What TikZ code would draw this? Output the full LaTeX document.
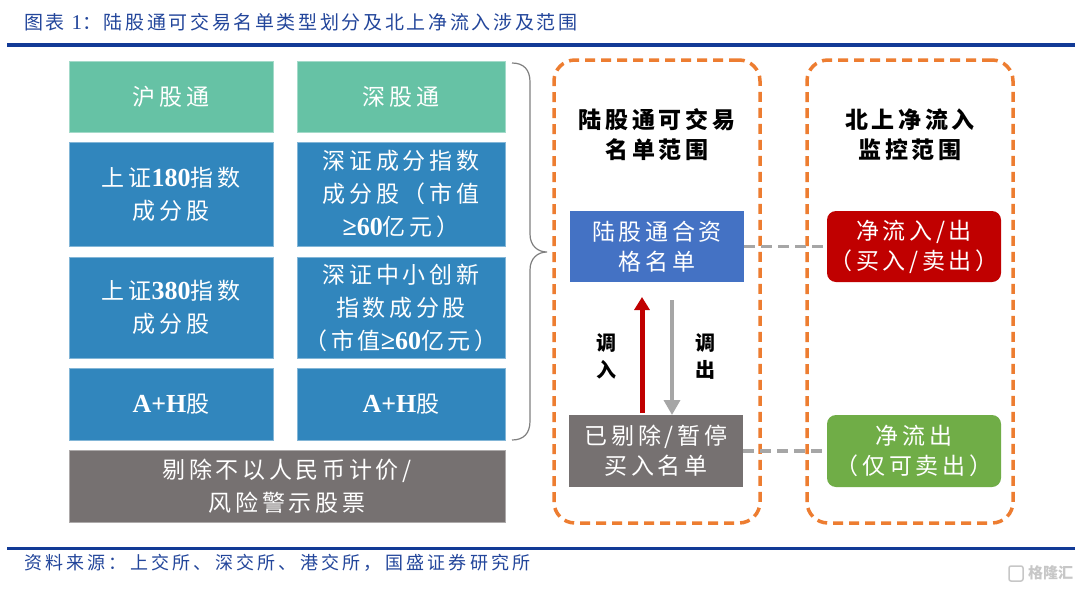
\documentclass[tikz,border=0pt]{standalone}
\usepackage{fontspec}
\setmainfont{Noto Sans CJK SC}
\newfontfamily\boxf{Noto Sans CJK SC}[LetterSpace=16]
\newfontfamily\titf{Noto Sans CJK SC}[LetterSpace=14]
\newfontfamily\srcf{Noto Sans CJK SC}[LetterSpace=18]
\newfontfamily\numf{Liberation Serif}
\newfontfamily\wmf{Noto Sans CJK SC}
\usetikzlibrary{arrows.meta}
\definecolor{tealc}{RGB}{102,194,165}
\definecolor{bluec}{RGB}{49,134,189}
\definecolor{grayc}{RGB}{118,113,113}
\definecolor{orangec}{RGB}{237,125,49}
\definecolor{midblue}{RGB}{68,114,196}
\definecolor{redc}{RGB}{192,0,0}
\definecolor{greenc}{RGB}{112,173,71}
\definecolor{dashgray}{RGB}{166,166,166}
\definecolor{bracec}{RGB}{128,128,128}
\definecolor{titleblue}{RGB}{35,70,155}
\definecolor{rulec}{RGB}{18,58,150}
\newcommand\nb[1]{{\numf\bfseries\fontsize{26}{33}\selectfont #1}}
\begin{document}
\begin{tikzpicture}[x=1pt,y=-1pt,
  every node/.style={inner sep=0pt, outer sep=0pt, align=center},
  boxtext/.style={text=white, font=\boxf\fontsize{23}{33}\selectfont},
  tealbox/.style={boxtext, fill=tealc, draw=tealc!60!white, line width=0.8pt, minimum height=71pt},
  bluebox/.style={boxtext, fill=bluec, draw=bluec!60!white, line width=0.8pt},
  greybox/.style={boxtext, fill=grayc, draw=grayc!60!white, line width=0.8pt},
  frame/.style={draw=orangec, line width=3.5pt, dash pattern=on 10pt off 6pt, rounded corners=21pt, minimum width=206pt, minimum height=463pt},
  headtext/.style={font=\boxf\bfseries\fontsize{23}{30}\selectfont, text=black},
  midbox/.style={text=white, font=\boxf\fontsize{23}{30}\selectfont, minimum width=174pt, minimum height=71pt},
  conn/.style={draw=dashgray, line width=3.5pt, dash pattern=on 11pt off 6pt},
  uparrow/.style={draw=redc, line width=5pt, -{Triangle[width=15pt,length=13pt]}},
  downarrow/.style={draw=dashgray, line width=3.5pt, -{Triangle[width=16pt,length=15pt]}},
  arrowlabel/.style={font=\bfseries\fontsize{20}{27}\selectfont, text=black}
]
\useasboundingbox (0,0) rectangle (1080,592);
\fill[white] (0,0) rectangle (1080,592);

% title and rules
\node[anchor=west, text=titleblue, font=\titf\fontsize{19}{22}\selectfont] (title) at (24,22)
  {图表 {\numf\fontsize{21}{22}\selectfont 1}：陆股通可交易名单类型划分及北上净流入涉及范围};
\draw[rulec, line width=3.5pt] (7,45) -- (1075,45);
\draw[rulec, line width=3pt] (7,548) -- (1075,548);
\node[anchor=west, text=titleblue, font=\srcf\fontsize{18}{22}\selectfont] (source) at (24,563)
  {资料来源：上交所、深交所、港交所，国盛证券研究所};
\node[anchor=east, text=black!22, font=\wmf\bfseries\fontsize{15}{18}\selectfont] (wm) at (1073,573) {格隆汇};
\draw[black!22, line width=1.5pt, rounded corners=2pt] (1009,566) rectangle (1023,581);

% left grid
\node[tealbox, minimum width=204pt] (hgt) at (171,96.5) {沪股通};
\node[tealbox, minimum width=208pt] (sgt) at (401,96.5) {深股通};
\node[bluebox, minimum width=204pt, minimum height=104pt] (sh180) at (171,194) {上证\nb{180}指数\\成分股};
\node[bluebox, minimum width=208pt, minimum height=104pt] (szcf) at (401,194) {深证成分指数\\成分股（市值\\\nb{≥60}亿元）};
\node[bluebox, minimum width=204pt, minimum height=101pt] (sh380) at (171,307.5) {上证\nb{380}指数\\成分股};
\node[bluebox, minimum width=208pt, minimum height=101pt] (szzx) at (401,307.5) {深证中小创新\\指数成分股\\（市值\nb{≥60}亿元）};
\node[bluebox, minimum width=204pt, minimum height=72pt] (ah1) at (171,404) {\nb{A+H}股};
\node[bluebox, minimum width=208pt, minimum height=72pt] (ah2) at (401,404) {\nb{A+H}股};
\node[greybox, minimum width=436pt, minimum height=72pt] (excl) at (287,486) {剔除不以人民币计价/\\风险警示股票};

% brace
\draw[bracec, line width=1.2pt] (512,63) .. controls (524,63) and (530,70) .. (530,82) -- (530,234)
  .. controls (530,246) and (538,252) .. (547,252)
  .. controls (538,252) and (530,258) .. (530,270) -- (530,421)
  .. controls (530,433) and (524,440) .. (512,440);

% frames
\node[frame] (fmid) at (657,291.5) {};
\node[frame] (fright) at (910,291.5) {};
\node[headtext] (hmid) at (657,135) {陆股通可交易\\名单范围};
\node[headtext] (hright) at (910,135) {北上净流入\\监控范围};

% middle boxes
\node[midbox, fill=midblue] (elig) at (657,246.5) {陆股通合资\\格名单};
\node[midbox, fill=grayc, minimum height=72pt] (susp) at (656,451) {已剔除/暂停\\买入名单};
\node[midbox, fill=redc, rounded corners=9pt] (flow) at (914,246.5) {净流入/出\\（买入/卖出）};
\node[midbox, fill=greenc, rounded corners=9pt, minimum height=72pt] (out) at (914,451) {净流出\\（仅可卖出）};

% connectors
\draw[conn] (elig.east) -- (flow.west);
\draw[conn] (susp.east) -- (out.west);
\draw[uparrow] ([xshift=-14pt,yshift=2pt]susp.north) -- ([xshift=-15pt,yshift=-15pt]elig.south);
\draw[downarrow] ([xshift=15pt,yshift=-18pt]elig.south) -- ([xshift=16pt]susp.north);
\node[arrowlabel] (lin) at (606,356) {调\\入};
\node[arrowlabel] (lout) at (705,356) {调\\出};
\end{tikzpicture}
\end{document}
